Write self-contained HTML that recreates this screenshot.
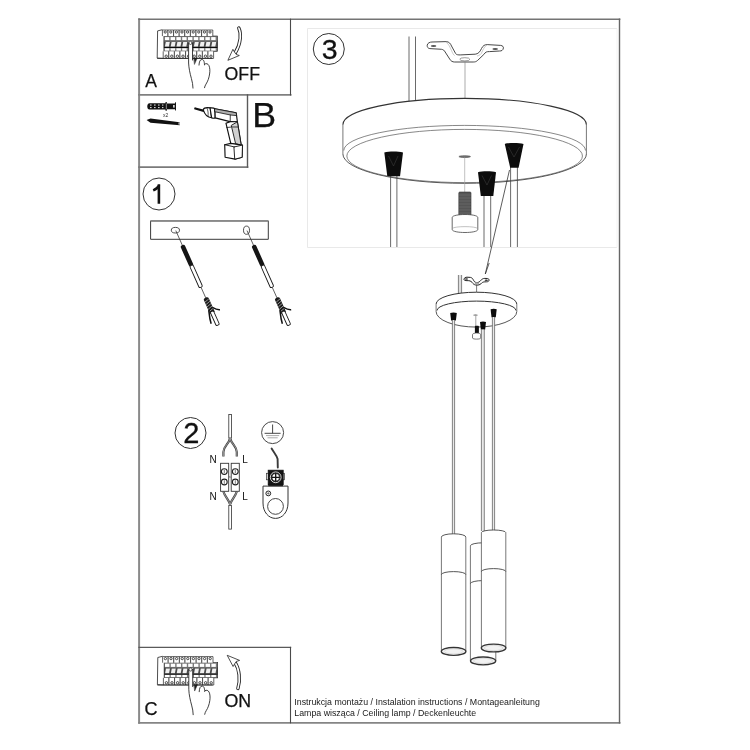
<!DOCTYPE html>
<html><head><meta charset="utf-8">
<style>
html,body{margin:0;padding:0;background:#fff;width:750px;height:750px;overflow:hidden}
svg{display:block;will-change:transform}
text{font-family:"Liberation Sans",sans-serif}
</style></head><body>
<svg width="750" height="750" viewBox="0 0 750 750">
<rect width="750" height="750" fill="#fff"/>

<!-- panel 3 light box -->
<path d="M617,28.5 H307.5 V247.5 H617" fill="none" stroke="#e9e9e9" stroke-width="1"/><path d="M617,28.5 V247.5" fill="none" stroke="#f4f4f4" stroke-width="1"/>

<!-- outer frame -->
<g fill="none" stroke-linecap="square">
  <line x1="139.1" y1="19.3" x2="139.1" y2="722.8" stroke="#8a8a8a" stroke-width="2"/>
  <line x1="139.1" y1="722.8" x2="619.6" y2="722.8" stroke="#858585" stroke-width="1.8"/>
  <line x1="139.1" y1="19.2" x2="619.6" y2="19.2" stroke="#747474" stroke-width="1.5"/>
  <line x1="619.5" y1="19.2" x2="619.5" y2="722.8" stroke="#666" stroke-width="1.4"/>
  <line x1="139.1" y1="94.9" x2="290.6" y2="94.9" stroke="#808080" stroke-width="1.9"/>
  <line x1="290.5" y1="19.2" x2="290.5" y2="94.9" stroke="#4a4a4a" stroke-width="1.1"/>
  <line x1="139.1" y1="167.1" x2="247.5" y2="167.1" stroke="#7a7a7a" stroke-width="1.7"/>
  <line x1="247.5" y1="94.9" x2="247.5" y2="167.1" stroke="#5a5a5a" stroke-width="1.4"/>
  <line x1="139.1" y1="647.4" x2="290.5" y2="647.4" stroke="#5a5a5a" stroke-width="1.4"/>
  <line x1="290.5" y1="647.4" x2="290.5" y2="722.8" stroke="#4a4a4a" stroke-width="1.1"/>
</g>

<!--PARTS-->
<defs>
<g id="brk" stroke="#222" stroke-width="0.7" fill="#fff">
<path d="M5.4,0.2 L0.6,1.4 L0.2,28.6 L6.4,28.9" fill="none" stroke-width="0.8"/>
<rect x="6.9" y="6.5" width="53.6" height="15.3" fill="#7a7a7a" stroke="none"/><rect x="6.9" y="12" width="53.6" height="5.6" fill="#4a4a4a" stroke="none"/>
<rect x="7.80" y="7.6" width="4.40" height="3.2" fill="#fff" stroke="none"/>
<polygon points="7.90,17.1 8.80,12.4 12.80,12.4 11.90,17.1" fill="#f0f0f0" stroke="none"/>
<rect x="7.80" y="18.8" width="4.50" height="2.3" fill="#fff" stroke="none"/>
<rect x="13.60" y="7.6" width="4.40" height="3.2" fill="#fff" stroke="none"/>
<polygon points="13.70,17.1 14.60,12.4 18.60,12.4 17.70,17.1" fill="#f0f0f0" stroke="none"/>
<rect x="13.60" y="18.8" width="4.50" height="2.3" fill="#fff" stroke="none"/>
<rect x="19.40" y="7.6" width="4.40" height="3.2" fill="#fff" stroke="none"/>
<polygon points="19.50,17.1 20.40,12.4 24.40,12.4 23.50,17.1" fill="#f0f0f0" stroke="none"/>
<rect x="19.40" y="18.8" width="4.50" height="2.3" fill="#fff" stroke="none"/>
<rect x="25.20" y="7.6" width="4.40" height="3.2" fill="#fff" stroke="none"/>
<polygon points="25.30,17.1 26.20,12.4 30.20,12.4 29.30,17.1" fill="#f0f0f0" stroke="none"/>
<rect x="25.20" y="18.8" width="4.50" height="2.3" fill="#fff" stroke="none"/>
<rect x="31.00" y="7.6" width="4.40" height="3.2" fill="#fff" stroke="none"/>
<polygon points="31.10,17.1 32.00,12.4 36.00,12.4 35.10,17.1" fill="#f0f0f0" stroke="none"/>
<rect x="31.00" y="18.8" width="4.50" height="2.3" fill="#fff" stroke="none"/>
<rect x="36.80" y="7.6" width="4.40" height="3.2" fill="#fff" stroke="none"/>
<polygon points="36.90,17.1 37.80,12.4 41.80,12.4 40.90,17.1" fill="#f0f0f0" stroke="none"/>
<rect x="36.80" y="18.8" width="4.50" height="2.3" fill="#fff" stroke="none"/>
<rect x="42.60" y="7.6" width="4.40" height="3.2" fill="#fff" stroke="none"/>
<polygon points="42.70,17.1 43.60,12.4 47.60,12.4 46.70,17.1" fill="#f0f0f0" stroke="none"/>
<rect x="42.60" y="18.8" width="4.50" height="2.3" fill="#fff" stroke="none"/>
<rect x="48.40" y="7.6" width="4.40" height="3.2" fill="#fff" stroke="none"/>
<polygon points="48.50,17.1 49.40,12.4 53.40,12.4 52.50,17.1" fill="#f0f0f0" stroke="none"/>
<rect x="48.40" y="18.8" width="4.50" height="2.3" fill="#fff" stroke="none"/>
<rect x="54.20" y="7.6" width="4.40" height="3.2" fill="#fff" stroke="none"/>
<polygon points="54.30,17.1 55.20,12.4 59.20,12.4 58.30,17.1" fill="#f0f0f0" stroke="none"/>
<rect x="54.20" y="18.8" width="4.50" height="2.3" fill="#fff" stroke="none"/>
<rect x="6.9" y="10.9" width="53.6" height="1.2" fill="#6a6a6a" stroke="none"/>
<rect x="6.9" y="17.6" width="53.6" height="0.9" fill="#000" stroke="none"/>
<rect x="6.9" y="6.5" width="53.6" height="15.3" fill="none" stroke-width="0.6"/>
<path d="M5.40,6.6 L5.40,0.5 L11.00,0.5 L11.00,6.6" fill="#fff" stroke-width="0.7"/>
<circle cx="8.20" cy="2.5" r="1.15" fill="#fff" stroke-width="0.8"/>
<path d="M11.00,6.6 L11.00,0.5 L16.60,0.5 L16.60,6.6" fill="#fff" stroke-width="0.7"/>
<circle cx="13.80" cy="2.5" r="1.15" fill="#fff" stroke-width="0.8"/>
<path d="M16.60,6.6 L16.60,0.5 L22.20,0.5 L22.20,6.6" fill="#fff" stroke-width="0.7"/>
<circle cx="19.40" cy="2.5" r="1.15" fill="#fff" stroke-width="0.8"/>
<path d="M22.20,6.6 L22.20,0.5 L27.80,0.5 L27.80,6.6" fill="#fff" stroke-width="0.7"/>
<circle cx="25.00" cy="2.5" r="1.15" fill="#fff" stroke-width="0.8"/>
<path d="M27.80,6.6 L27.80,0.5 L33.40,0.5 L33.40,6.6" fill="#fff" stroke-width="0.7"/>
<circle cx="30.60" cy="2.5" r="1.15" fill="#fff" stroke-width="0.8"/>
<path d="M33.40,6.6 L33.40,0.5 L39.00,0.5 L39.00,6.6" fill="#fff" stroke-width="0.7"/>
<circle cx="36.20" cy="2.5" r="1.15" fill="#fff" stroke-width="0.8"/>
<path d="M39.00,6.6 L39.00,0.5 L44.60,0.5 L44.60,6.6" fill="#fff" stroke-width="0.7"/>
<circle cx="41.80" cy="2.5" r="1.15" fill="#fff" stroke-width="0.8"/>
<path d="M44.60,6.6 L44.60,0.5 L50.20,0.5 L50.20,6.6" fill="#fff" stroke-width="0.7"/>
<circle cx="47.40" cy="2.5" r="1.15" fill="#fff" stroke-width="0.8"/>
<path d="M50.20,6.6 L50.20,0.5 L55.80,0.5 L55.80,6.6" fill="#fff" stroke-width="0.7"/>
<circle cx="53.00" cy="2.5" r="1.15" fill="#fff" stroke-width="0.8"/>
<path d="M6.20,21.8 L6.20,28.9 L11.80,28.9 L11.80,21.8" fill="#fff" stroke-width="0.7"/>
<circle cx="9.20" cy="26.7" r="1.2" fill="#fff" stroke-width="0.8"/>
<path d="M11.80,21.8 L11.80,28.9 L17.40,28.9 L17.40,21.8" fill="#fff" stroke-width="0.7"/>
<circle cx="14.80" cy="26.7" r="1.2" fill="#fff" stroke-width="0.8"/>
<path d="M17.40,21.8 L17.40,28.9 L23.00,28.9 L23.00,21.8" fill="#fff" stroke-width="0.7"/>
<circle cx="20.40" cy="26.7" r="1.2" fill="#fff" stroke-width="0.8"/>
<path d="M23.00,21.8 L23.00,28.9 L28.60,28.9 L28.60,21.8" fill="#fff" stroke-width="0.7"/>
<circle cx="26.00" cy="26.7" r="1.2" fill="#fff" stroke-width="0.8"/>
<path d="M28.60,21.8 L28.60,28.9 L34.20,28.9 L34.20,21.8" fill="#fff" stroke-width="0.7"/>
<circle cx="31.60" cy="26.7" r="1.2" fill="#fff" stroke-width="0.8"/>
<path d="M34.20,21.8 L34.20,28.9 L39.80,28.9 L39.80,21.8" fill="#fff" stroke-width="0.7"/>
<circle cx="37.20" cy="26.7" r="1.2" fill="#fff" stroke-width="0.8"/>
<path d="M39.80,21.8 L39.80,28.9 L45.40,28.9 L45.40,21.8" fill="#fff" stroke-width="0.7"/>
<circle cx="42.80" cy="26.7" r="1.2" fill="#fff" stroke-width="0.8"/>
<path d="M45.40,21.8 L45.40,28.9 L51.00,28.9 L51.00,21.8" fill="#fff" stroke-width="0.7"/>
<circle cx="48.40" cy="26.7" r="1.2" fill="#fff" stroke-width="0.8"/>
<path d="M51.00,21.8 L51.00,28.9 L56.60,28.9 L56.60,21.8" fill="#fff" stroke-width="0.7"/>
<circle cx="54.00" cy="26.7" r="1.2" fill="#fff" stroke-width="0.8"/>
<path d="M0.2,28.9 L55.6,28.9" stroke-width="0.8"/>
</g>
<g id="hand" fill="none" stroke="#1e1e1e" stroke-width="0.85" stroke-linecap="round">
<rect x="31.6" y="12" width="3.9" height="22" fill="#fff" stroke="none"/>
<path d="M31.6,13.5 L31.6,33.5 C31.8,38.5 33,44 34.4,49 C35.4,52.5 35.9,55.5 36,58.6"/>
<path d="M35.5,13.5 L35.5,30.5"/>
<circle cx="33.55" cy="13.4" r="1.6" fill="#fff" stroke-width="0.7"/>
<path d="M37,28.6 L40.2,28.6 L37.6,34.6 Z" fill="#222" stroke-width="0.5"/>
<path d="M42,35.6 C42.2,32.2 43,30 44.9,30 C46.6,30 47.4,31.6 47.5,35.4"/>
<path d="M48.1,34.4 C49.2,33.8 50.8,34 51.9,36 C52.9,38 53.1,41.5 52.6,44.5 C52,48.5 50.8,51.8 49,54.6 C48.2,56 47.7,57 47.5,58.2"/>
</g>
</defs>
<use href="#brk" x="157" y="29.5"/>
<use href="#hand" x="157" y="29.5"/>
<use href="#brk" x="157.2" y="656.1"/>
<use href="#hand" x="157.2" y="656.1"/>
<!-- OFF arrow -->
<g fill="#fff" stroke="#222" stroke-width="0.8" stroke-linejoin="round">
<path d="M238.8,28 C241.2,33 241.3,43 235.2,53" fill="none" stroke="#222" stroke-width="3.4" stroke-linecap="round"/>
<path d="M238.8,28 C241.2,33 241.3,43 235.2,53" fill="none" stroke="#fff" stroke-width="1.6" stroke-linecap="round"/>
<polygon points="227.9,60.3 232.9,49.3 234.2,51.6 236.3,54.5 239.3,55.5"/>
<!-- ON arrow -->
<path d="M235.2,662.8 C239.3,669 240.6,680 237.9,688.4" fill="none" stroke="#222" stroke-width="3.4" stroke-linecap="round"/>
<path d="M235.2,662.8 C239.3,669 240.6,680 237.9,688.4" fill="none" stroke="#fff" stroke-width="1.6" stroke-linecap="round"/>
<polygon points="227.2,655.3 239.6,660.4 236.2,661.5 234.3,664.4 233.1,666.5"/>
</g>

<!-- B: dowel -->
<g>
<path d="M149.5,103.2 L165.4,103.2 L165.6,102 L166.8,102 L166.8,103.4 L175,103.4 L175.2,102.3 L176,102.3 L176,110.4 L175.2,110.4 L175,109.2 L166.8,109.2 L166.8,110.8 L165.6,110.8 L165.4,109.6 L149.5,109.6 C146.5,109.6 146.5,103.2 149.5,103.2 Z" fill="#111"/>
<g fill="#fff">
<rect x="150" y="104.6" width="1.6" height="0.9"/><rect x="154" y="104.6" width="1.6" height="0.9"/><rect x="158" y="104.6" width="1.6" height="0.9"/><rect x="162" y="104.6" width="1.4" height="0.9"/>
<rect x="150" y="107.2" width="1.6" height="0.9"/><rect x="154" y="107.2" width="1.6" height="0.9"/><rect x="158" y="107.2" width="1.6" height="0.9"/><rect x="162" y="107.2" width="1.4" height="0.9"/>
<rect x="165.9" y="103.6" width="0.6" height="5.4" fill="#ddd"/>
<rect x="173.2" y="105" width="1.4" height="2.6"/>
</g>
<text x="165.6" y="116.8" font-size="5" text-anchor="middle" fill="#333">x2</text>
<path d="M146.6,119.9 L150.5,118.6 L179.6,122.2 L179.8,125.2 L150.5,122.8 Z" fill="#111"/>
<path d="M178.4,122.4 L179.9,122.5 L179.9,124.7 L178.4,124.6 Z" fill="#bbb"/>
</g>
<!-- drill -->
<g fill="#fff" stroke="#111" stroke-width="1.15" stroke-linejoin="round" stroke-linecap="round">
<path d="M195.3,108.5 L203.8,110.8" stroke-width="2.3"/>
<path d="M203.2,109.6 C204,107.6 207,107.4 210.3,107.9 L211.6,117.7 C208.5,117.5 205,115.5 203.2,109.6 Z"/>
<path d="M210,107.9 C212.5,107.7 214.5,108.2 215,108.8 L215.2,117.9 C214.2,118.3 212.6,118.2 211.6,117.7 Z"/>
<path d="M207,108 C208,110.5 208.5,113.5 208,116.2" stroke-width="0.7"/>
<path d="M215,108.8 L236.2,112.8 L237.4,121.8 L230,121.6 L215.2,117.9 Z"/>
<path d="M215,108.8 L236.2,112.8 L236.6,115.6 L230.5,115 L215,111.8 Z" fill="#b0b0b0" stroke-width="0.8"/>
<path d="M230.3,115 L230.2,121.6" stroke-width="0.8"/>
<path d="M226,123.3 L230.2,121.6 L237.4,121.8 L241.2,145.2 L230.8,143.6 Z"/>
<path d="M231.6,125.2 L237.4,121.8 L241.2,145.2 L236,143.8 Z" fill="#d0d0d0" stroke-width="0.9"/>
<path d="M226.8,127.5 L231.8,127 L237.8,127" stroke-width="0.8"/>
<path d="M224.7,144.7 L230.8,143.4 L242.5,145.1 L242.1,157.3 L235.1,159.1 L225.1,157.3 Z"/>
<path d="M234.3,146.9 L242.5,145.1 L242.1,157.3 L235.1,159.1 Z" fill="#fff" stroke-width="0.9"/><path d="M224.7,144.7 L234.3,146.9" stroke-width="0.9"/>
</g>

<!-- panel 1 -->
<g fill="none" stroke="#3a3a3a">
<path d="M150.6,239.3 L150.6,220.9 L268.3,220.9 L268.3,239.3 Z" stroke-width="1"/>
<line x1="150.6" y1="220.9" x2="268.3" y2="220.9" stroke="#8a8a8a" stroke-width="1.6"/>
<ellipse cx="175.4" cy="230.2" rx="4.1" ry="2.8" stroke-width="0.9"/>
<ellipse cx="246.5" cy="230.2" rx="3" ry="4.1" stroke-width="0.9"/>
</g>
<defs>
<g id="scr">
<line x1="0" y1="0" x2="0" y2="17" stroke="#333" stroke-width="0.7"/>
<rect x="-2.3" y="15.8" width="4.6" height="23.2" rx="2" fill="#151515"/>
<rect x="-1.8" y="38" width="3.6" height="24" rx="1.4" fill="#fff" stroke="#1a1a1a" stroke-width="0.9"/>
<line x1="0" y1="62" x2="0" y2="73.5" stroke="#333" stroke-width="0.7"/>
<path d="M-2.6,75 C-2.6,72.6 2.6,72.6 2.6,75 L2.6,90 L-2.6,90 Z" fill="#1a1a1a"/>
<g stroke="#fff" stroke-width="0.5">
<path d="M-2.4,77.2 L2.4,75.8 M-2.4,79.8 L2.4,78.4 M-2.4,82.4 L2.4,81 M-2.4,85 L2.4,83.6 M-2.4,87.6 L2.4,86.2"/>
</g>
<path d="M-2.2,86 C-3.5,90 -5,94 -5.6,99.5" fill="none" stroke="#111" stroke-width="1.5"/>
<path d="M2.2,85 C4,87.5 6,89.5 8.2,90.2" fill="none" stroke="#111" stroke-width="1.5"/>
<rect x="-1.8" y="88.5" width="3.6" height="15" rx="1.2" fill="#fff" stroke="#1a1a1a" stroke-width="0.9"/>
</g>
</defs>
<use href="#scr" transform="translate(175.8,230.6) rotate(-24)"/>
<use href="#scr" transform="translate(247,230.6) rotate(-24)"/>

<!-- panel 2 -->
<g>
<rect x="228.8" y="414.5" width="2.6" height="23.5" fill="#fff" stroke="#333" stroke-width="0.8"/>
<path d="M230.1,438 C229,444 223.6,446 223.4,452 L223.4,456.6 M230.1,438 C231.2,444 236.6,446 236.8,452 L236.8,456.6" fill="none" stroke="#444" stroke-width="2.2"/>
<path d="M230.1,438 C229,444 223.6,446 223.4,452 L223.4,456.6 M230.1,438 C231.2,444 236.6,446 236.8,452 L236.8,456.6" fill="none" stroke="#bbb" stroke-width="0.7"/>
<path d="M223.4,491.6 C224.5,496 229,500 230.1,504.6 M236.8,491.6 C235.7,496 231.2,500 230.1,504.6" fill="none" stroke="#444" stroke-width="2.2"/>
<path d="M223.4,491.6 C224.5,496 229,500 230.1,504.6 M236.8,491.6 C235.7,496 231.2,500 230.1,504.6" fill="none" stroke="#bbb" stroke-width="0.7"/>
<rect x="228.8" y="505.5" width="2.6" height="23.6" fill="#fff" stroke="#333" stroke-width="0.8"/>
<rect x="220.6" y="463.3" width="8.1" height="28" fill="#fff" stroke="#333" stroke-width="0.9"/>
<rect x="231.2" y="463.3" width="8.1" height="28" fill="#fff" stroke="#333" stroke-width="0.9"/>
<g fill="#fff" stroke="#222" stroke-width="1.1">
<circle cx="224.3" cy="471.6" r="2.9"/><circle cx="235.3" cy="471.6" r="2.9"/>
<circle cx="224.3" cy="482" r="2.9"/><circle cx="235.3" cy="482" r="2.9"/>
</g>
<g stroke="#222" stroke-width="0.6">
<path d="M224.3,469.8 V473.4 M235.3,469.8 V473.4 M224.3,480.2 V483.8 M235.3,480.2 V483.8"/>
<path d="M228.8,475.8 L230.8,478 M230.8,475.8 L228.8,478" stroke="#777"/>
</g>
<g fill="#111" font-size="10">
<text x="209.5" y="462.9">N</text><text x="242.3" y="462.9">L</text>
<text x="209.5" y="499.7">N</text><text x="242.3" y="499.7">L</text>
</g>
<!-- ground -->
<circle cx="272.6" cy="432.6" r="11" fill="none" stroke="#333" stroke-width="0.9"/>
<path d="M272.6,424.5 V433.3 M264.6,433.3 H280.6" stroke="#333" stroke-width="0.9"/>
<path d="M266,435.6 H279.2 M267.5,437.8 H277.7" stroke="#aaa" stroke-width="1"/>
<path d="M271.6,448.5 C273.5,452 276.8,455.5 277.6,459 L277.8,467.5" fill="none" stroke="#3a3a3a" stroke-width="1.9" stroke-linecap="round"/>
<path d="M263,486.1 L288,486.1 L288,503 C288,512 282.5,518.4 275.5,518.4 C268.5,518.4 263,512 263,503 Z" fill="#fff" stroke="#333" stroke-width="1"/>
<circle cx="275.5" cy="506.4" r="7.9" fill="#fff" stroke="#333" stroke-width="0.9"/>
<circle cx="268.3" cy="493.4" r="2.4" fill="#fff" stroke="#222" stroke-width="1"/>
<path d="M267,493.4 H269.6 M268.3,492.1 V494.7" stroke="#222" stroke-width="0.5"/>
<rect x="268.2" y="483.6" width="14.8" height="2.6" fill="#222"/>
<rect x="266.6" y="473.3" width="2" height="6.5" fill="#fff" stroke="#333" stroke-width="0.7"/>
<rect x="282.4" y="473.3" width="2" height="6.5" fill="#fff" stroke="#333" stroke-width="0.7"/>
<rect x="268.2" y="470.2" width="15" height="14.4" fill="#151515" stroke="#111" stroke-width="0.8"/>
<circle cx="275.7" cy="477.3" r="5.4" fill="none" stroke="#e8e8e8" stroke-width="0.9"/>
<circle cx="275.7" cy="477.3" r="3.9" fill="#fff" stroke="none"/>
<path d="M275.7,473.2 V481.4 M271.6,477.3 H279.8" stroke="#111" stroke-width="1.3"/>
<circle cx="275.7" cy="477.3" r="3.9" fill="none" stroke="#111" stroke-width="0.7"/>
</g>

<!-- panel 3 -->
<g fill="none" stroke="#333">
<!-- wires above canopy -->
<path d="M409,36.5 V102 M415.5,36.5 V101" stroke="#444" stroke-width="0.8"/>
<!-- bracket -->
<path d="M427.2,45.2 C427.5,43 430,42 432,42 L446.4,41.6 C449,41.8 450.5,43.5 451.5,46 L455.6,53.5 C456.5,54.8 458,55 460.8,54.9 L475.2,54.2 C478,54 480,52 481.5,48.5 C483,45.5 484.8,44.6 487.2,44.6 L500.6,45.4 C502.8,45.6 503.6,47 503.4,48 C503,50.5 501.5,51 499.5,51 L489.6,51.6 C486.5,51.5 485.5,52 483.8,54.5 L477.5,60.5 C476,61.8 475,62 473.2,62 L454.6,62 C452.5,62 450.8,61 449.8,59.2 L444.5,51 C443.5,49.6 442,49.2 440,49.2 L429.8,48.6 C428,48.4 427,47 427.2,45.2 Z" fill="#fff" stroke="#333" stroke-width="0.9"/>
<path d="M445.8,42 C449,44 450,47.5 451.5,50.5 C452.5,53 453.5,55 454.6,55.5" stroke="#999" stroke-width="0.5"/>
<path d="M487,44.8 C484.5,46.5 483,49.5 482,52 C481,54.5 479.5,55.5 477,56" stroke="#999" stroke-width="0.5"/>
<ellipse cx="433.6" cy="46.1" rx="2.8" ry="1" fill="#555" stroke="none"/>
<ellipse cx="495.2" cy="48.9" rx="2.8" ry="1" fill="#555" stroke="none"/>
<ellipse cx="464.8" cy="59.3" rx="5" ry="1.6" stroke="#555" stroke-width="0.6"/>
<path d="M465,62 V98.5" stroke="#888" stroke-width="0.7"/>
<!-- canopy -->
<path d="M342.9,124.7 A121.75,26.3 0 0 1 586.4,124.7 L586.4,154 A121.75,29.3 0 0 1 342.9,154 Z" fill="#fff" stroke="none"/>
<path d="M342.9,124.7 A121.75,26.3 0 0 1 586.4,124.7" stroke="#333" stroke-width="1.1"/>
<path d="M342.9,124.7 V154 M586.4,124.7 V154" stroke="#555" stroke-width="0.8"/>
<path d="M586.4,154 A121.75,29.3 0 0 1 342.9,154" stroke="#444" stroke-width="0.9"/>
<path d="M343.8,150.5 A120.85,25.1 0 0 1 585.5,150.5" stroke="#555" stroke-width="0.7"/>
<ellipse cx="464.65" cy="156" rx="117.8" ry="26.6" stroke="#555" stroke-width="0.7"/>
<!-- hole + bolt -->
<ellipse cx="464.7" cy="156.6" rx="5.8" ry="0.9" fill="#777" stroke="#444" stroke-width="0.6"/>
<path d="M464.7,157.5 V192" stroke="#999" stroke-width="0.6"/>
<rect x="458.8" y="192" width="12.2" height="23.5" rx="1" fill="#555" stroke="#333" stroke-width="0.6"/>
<path d="M459,195 H471 M459,198 H471 M459,201 H471 M459,204 H471 M459,207 H471 M459,210 H471 M459,213 H471" stroke="#777" stroke-width="0.5"/>
<path d="M452.2,217.5 C452.2,213.5 477.8,213.5 477.8,217.5 L477.8,229.5 C477.8,233.5 452.2,233.5 452.2,229.5 Z" fill="#fff" stroke="#444" stroke-width="0.8"/>
<path d="M452.4,228.5 C454,226 476,226 477.6,228.5" stroke="#999" stroke-width="0.6"/>
<!-- wires below canopy -->
<path d="M390.6,175 V247 M396.9,175 V247" stroke="#444" stroke-width="0.8"/>
<path d="M484,195 V247 M490.7,195 V247" stroke="#444" stroke-width="0.8"/>
<path d="M510.6,167 V247 M517.4,167 V247" stroke="#444" stroke-width="0.8"/>
<!-- grommets -->
<g fill="#0c0c0c" stroke="none">
<path d="M384.3,152.5 C389,151.2 398,151.2 403,152.5 L400,176.3 L387.3,176.3 Z"/>
<path d="M478,172.3 C482,171 492,171 496,172.3 L493.3,196 L480.8,196 Z"/>
<path d="M504.8,144 C509,142.6 519,142.6 523.5,144 L518.6,167.8 L510.2,167.8 Z"/>
</g>
<path d="M388.5,156 L393.5,166 L398,156 M482,175.5 L487,185 L491.5,175.5 M508.5,147 L514,157 L519.5,147" stroke="#3a3a3a" stroke-width="0.6"/>
<!-- diagonal pointer -->
<path d="M509.5,170 L485.3,274" stroke="#333" stroke-width="0.8"/>
</g>

<!-- lower pendant view -->
<g fill="none" stroke="#333">
<rect x="458.4" y="275" width="3.2" height="18" fill="#ddd" stroke="none"/><path d="M458.4,275 V293 M461.6,275 V293" stroke="#555" stroke-width="0.7"/>
<path d="M464,279.2 C464.2,277.8 465.5,277.2 467,277.2 L470.4,277.4 C472,277.6 472.8,278.8 473.6,280.4 C474.4,282 475.5,282.6 476.9,282.6 C478.5,282.6 479.6,281.8 480.6,280.6 C481.8,279.2 483,278.4 484.8,278.4 L487.4,278.5 C488.6,278.6 489.2,279.4 489,280.4 C488.8,281.4 487.8,281.8 486.6,281.8 L484.2,281.9 C482.8,282 481.8,282.8 480.9,283.8 C479.8,284.8 478.4,285.1 476.9,285.1 C475.2,285.1 473.9,284.6 472.9,283.4 C471.8,281.8 470.6,280.8 468.8,280.7 L466,280.6 C464.6,280.5 463.9,280.1 464,279.2 Z" fill="#fff" stroke="#222" stroke-width="1"/>
<ellipse cx="466.4" cy="279" rx="1.7" ry="0.8" fill="#333" stroke="none"/>
<ellipse cx="486.3" cy="280.2" rx="1.7" ry="0.8" fill="#333" stroke="none"/>
<ellipse cx="476.9" cy="283.2" rx="2.4" ry="0.9" fill="#aaa" stroke="none"/>
<path d="M476.6,284.6 V292.4" stroke="#444" stroke-width="0.7"/>
<path d="M436.1,304 A40.35,11.8 0 0 1 516.8,304 L516.8,311.5 A40.35,15.6 0 0 1 436.1,311.5 Z" fill="#fff" stroke="none"/>
<path d="M436.1,304 A40.35,11.8 0 0 1 516.8,304" stroke="#333" stroke-width="1"/>
<path d="M436.1,304 V311.5 M516.8,304 V311.5" stroke="#555" stroke-width="0.8"/>
<path d="M516.8,311.5 A40.35,15.6 0 0 1 436.1,311.5" stroke="#444" stroke-width="0.9"/>
<path d="M437,310.5 A39.5,9.4 0 0 1 516,310.5" stroke="#333" stroke-width="1"/>
<ellipse cx="475.5" cy="315" rx="2.3" ry="0.6" fill="#555" stroke="none"/>
<path d="M475.8,315.6 V326" stroke="#666" stroke-width="0.6"/>
<rect x="474.9" y="325.8" width="4" height="7.6" rx="0.8" fill="#111" stroke="none"/>
<path d="M472.5,334.6 C472.5,332.5 480.7,332.5 480.7,334.6 L480.7,338 C480.7,339.5 472.5,339.5 472.5,338 Z" fill="#fff" stroke="#444" stroke-width="0.7"/>
<g fill="#0c0c0c" stroke="none">
<path d="M450.2,313 C452,312.3 455,312.3 456.8,313 L455.9,320.4 L451.1,320.4 Z"/>
<path d="M490.6,309.2 C492.4,308.5 495,308.5 496.7,309.2 L495.8,317.2 L491.5,317.2 Z"/>
<path d="M480,321.9 C481.8,321.2 484.2,321.2 486,321.9 L485.1,329.8 L480.9,329.8 Z"/>
</g>
<path d="M485.3,274 L489.2,263" stroke="#333" stroke-width="0.8"/>
<!-- cords -->
<rect x="452.4" y="320" width="2.2" height="214" fill="#e8e8e8" stroke="none"/><path d="M452.4,320 V534 M454.6,320 V534" stroke="#666" stroke-width="0.8"/>
<rect x="481.4" y="329.5" width="2.9" height="201.5" fill="#e8e8e8" stroke="none"/><path d="M481.4,329.5 V531 M484.3,329.5 V531" stroke="#666" stroke-width="0.8"/>
<rect x="492.4" y="317" width="2.2" height="214" fill="#e8e8e8" stroke="none"/><path d="M492.4,317 V531 M494.6,317 V531" stroke="#666" stroke-width="0.8"/>
<!-- middle (back) pendant -->
<path d="M470.4,545.8 A12.7,3 0 0 1 495.8,545.8 L495.8,661 A12.7,4 0 0 1 470.4,661 Z" fill="#fff" stroke="none"/>
<path d="M470.4,545.8 A12.7,3 0 0 1 495.8,545.8" stroke="#444" stroke-width="0.9"/>
<path d="M470.4,545.8 V661 M495.8,545.8 V661" stroke="#555" stroke-width="0.8"/>
<path d="M470.4,583.6 A12.7,3 0 0 1 495.8,583.6" stroke="#444" stroke-width="0.9"/>
<ellipse cx="483.1" cy="660.9" rx="12.6" ry="3.9" fill="#f2f2f2" stroke="#333" stroke-width="1.3"/>
<ellipse cx="483.1" cy="660.9" rx="9.5" ry="2.6" fill="none" stroke="#ccc" stroke-width="0.6"/>
<!-- left pendant -->
<path d="M441.4,537 A12.2,3.2 0 0 1 465.8,537 L465.8,651.4 A12.2,4 0 0 1 441.4,651.4 Z" fill="#fff" stroke="none"/>
<path d="M441.4,537 A12.2,3.2 0 0 1 465.8,537" stroke="#444" stroke-width="0.9"/>
<path d="M441.4,537 V651.4 M465.8,537 V651.4" stroke="#555" stroke-width="0.8"/>
<path d="M441.4,574.6 A12.2,3 0 0 1 465.8,574.6" stroke="#444" stroke-width="0.9"/>
<ellipse cx="453.6" cy="651.4" rx="12.3" ry="3.9" fill="#f2f2f2" stroke="#333" stroke-width="1.3"/>
<ellipse cx="453.6" cy="651.4" rx="9.3" ry="2.6" fill="none" stroke="#ccc" stroke-width="0.6"/>
<!-- right pendant -->
<path d="M481.4,532.6 A12.2,2.6 0 0 1 505.8,532.6 L505.8,648 A12.2,4 0 0 1 481.4,648 Z" fill="#fff" stroke="none"/>
<path d="M481.4,532.6 A12.2,2.6 0 0 1 505.8,532.6" stroke="#444" stroke-width="0.9"/>
<path d="M481.4,532.6 V648 M505.8,532.6 V648" stroke="#555" stroke-width="0.8"/>
<path d="M481.4,571.6 A12.2,3 0 0 1 505.8,571.6" stroke="#444" stroke-width="0.9"/>
<ellipse cx="493.6" cy="648" rx="12.3" ry="3.9" fill="#f2f2f2" stroke="#333" stroke-width="1.3"/>
<ellipse cx="493.6" cy="648" rx="9.3" ry="2.6" fill="none" stroke="#ccc" stroke-width="0.6"/>
</g>

<!--ENDPARTS-->
<!-- labels -->
<g fill="#111" stroke="#111" stroke-width="0.25">
  <text x="145.3" y="86.7" font-size="17.5">A</text>
  <text x="252.3" y="126.6" font-size="35.8">B</text>
  <text x="224.6" y="79.8" font-size="17.7">OFF</text>
  <text x="144.6" y="714.9" font-size="18">C</text>
  <text x="224.4" y="706.8" font-size="17.8">ON</text>
</g>
<g fill="#202020" font-size="8.8">
  <text x="294.3" y="704.9">Instrukcja montażu / Instalation instructions / Montageanleitung</text>
  <text x="294.3" y="716.3">Lampa wisząca / Ceiling lamp / Deckenleuchte</text>
</g>

<!-- numbered circles -->
<g fill="none" stroke="#333" stroke-width="1">
  <circle cx="328.8" cy="49" r="15.5"/>
  <circle cx="159" cy="194" r="16"/>
  <circle cx="190.5" cy="433" r="15.5"/>
</g>
<g fill="#111" stroke="#111" stroke-width="0.3" text-anchor="middle">
  <text x="329.6" y="59.4" font-size="28.5">3</text>
  <text x="191.2" y="443.3" font-size="29">2</text>
</g>
<path d="M158.9,184.2 L158.9,203.8 M159.2,185 C158,188 155.5,189.5 153.2,190.4" fill="none" stroke="#111" stroke-width="2.6" stroke-linecap="butt"/>

</svg>
</body></html>
